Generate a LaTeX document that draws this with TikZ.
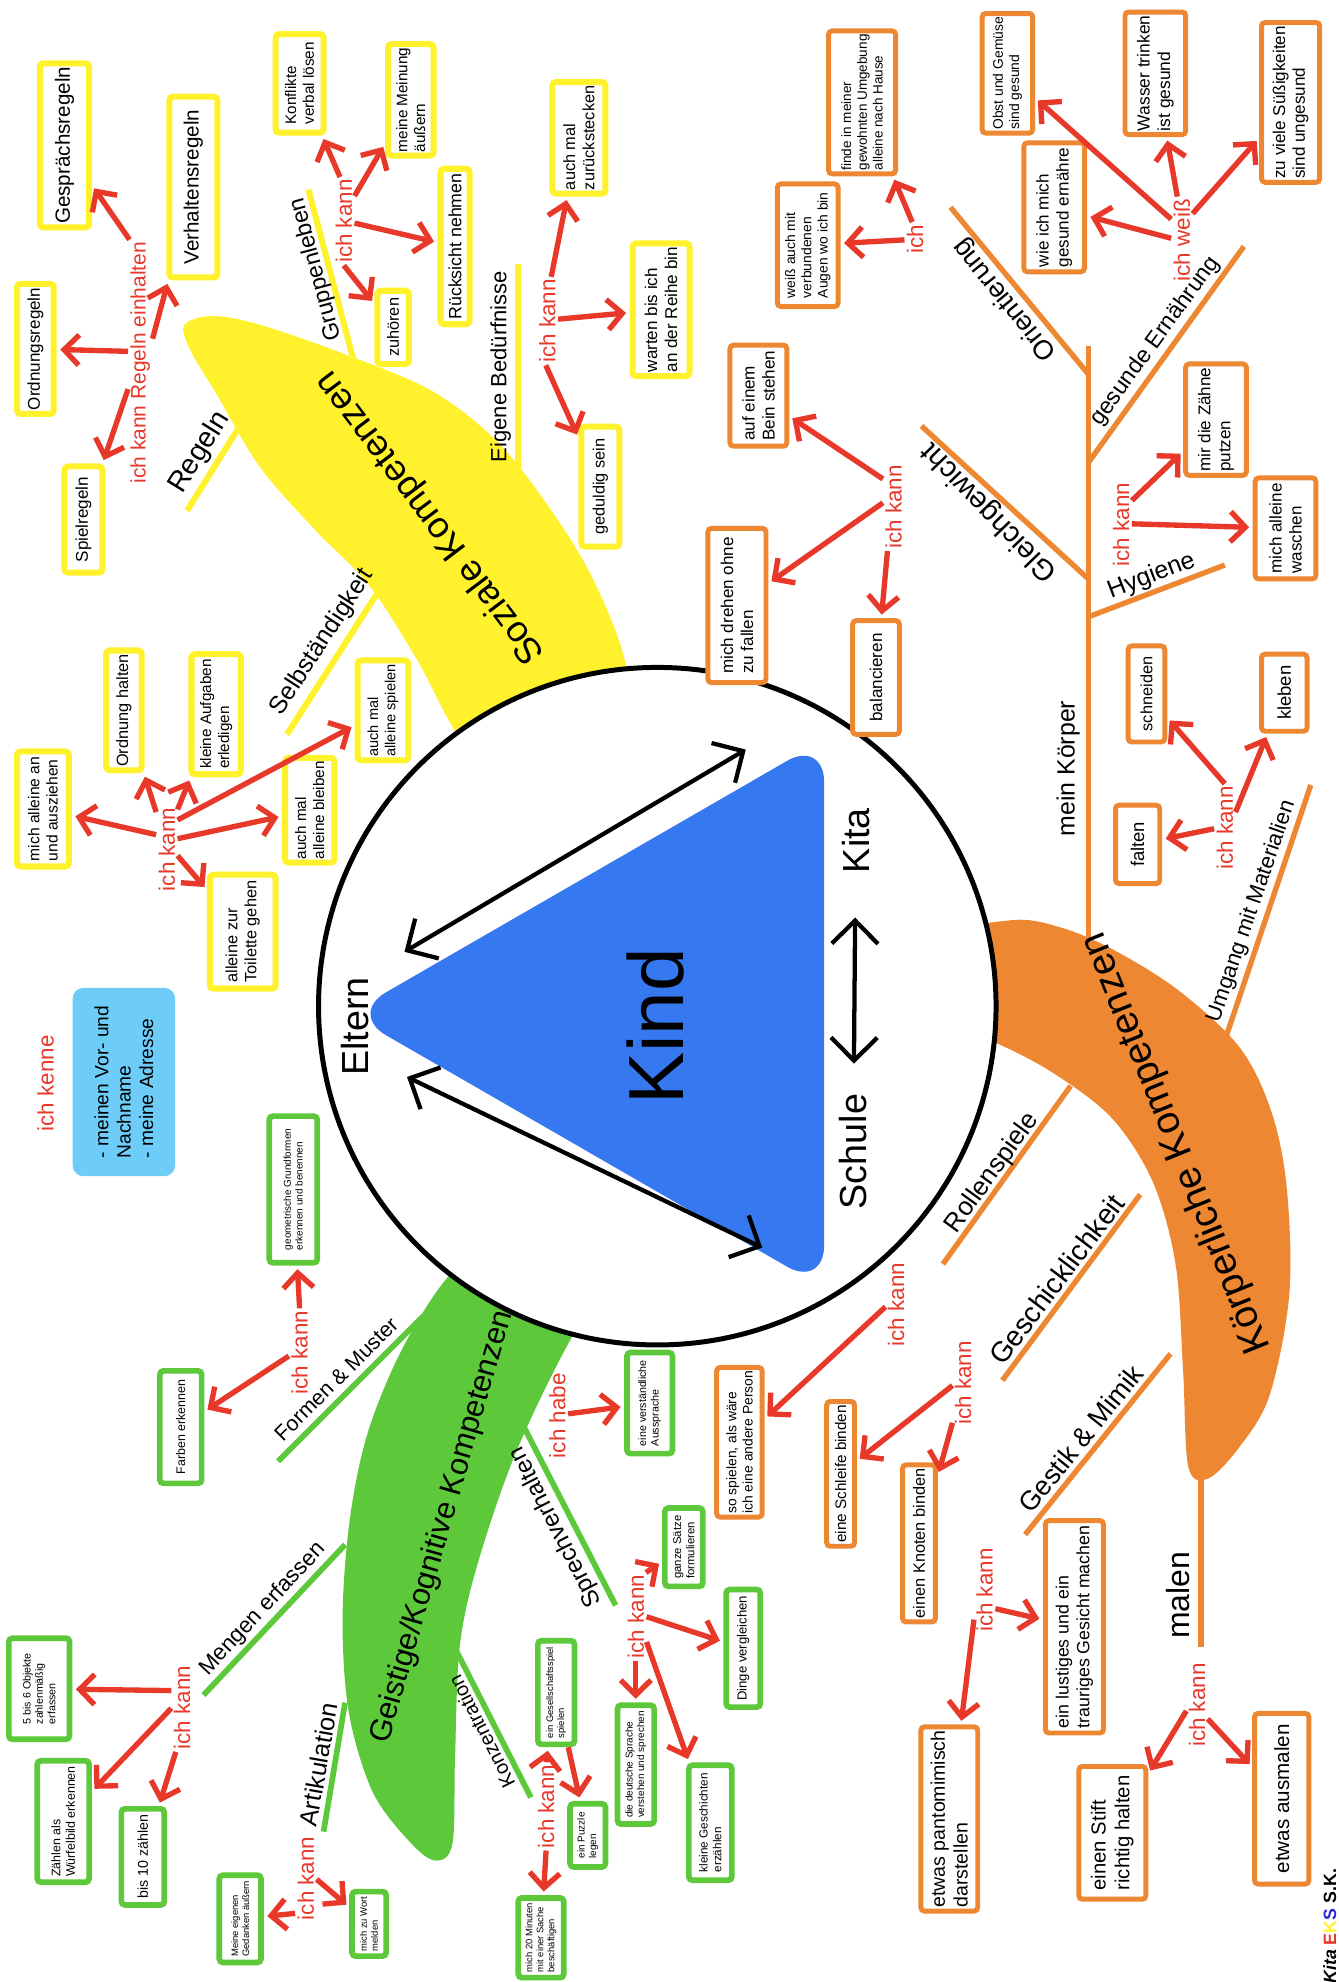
\documentclass[tikz,border=0pt]{standalone}
\usepackage{fontspec}
\setmainfont{Liberation Sans}
\usetikzlibrary{arrows.meta}
\definecolor{kyellow}{RGB}{255,242,45}
\definecolor{kgreen}{RGB}{92,200,58}
\definecolor{korange}{RGB}{238,135,50}
\definecolor{kred}{RGB}{232,56,42}
\definecolor{kblue}{RGB}{53,120,240}
\definecolor{klight}{RGB}{110,205,248}
\definecolor{klogoblue}{RGB}{40,40,220}
\newcommand{\fs}[1]{\fontsize{#1}{#1}\selectfont\baselineskip=1.17\baselineskip}

\begin{document}
\begin{tikzpicture}[x=0.125mm, y=-0.125mm,
    kbox/.style={fill=white, rotate=90, align=left, inner sep=1pt, rounded corners=1pt},
    ybox/.style={kbox, draw=kyellow, line width=1.7pt},
    obox/.style={kbox, draw=korange, line width=1.4pt},
    gbox/.style={kbox, draw=kgreen, line width=1.6pt},
    sz/.style 2 args={minimum width=#1*0.125mm, minimum height=#2*0.125mm},
    kann/.style={text=kred, rotate=90, inner sep=0.5pt, font=\fs{6.3}},
    lbl/.style={inner sep=0.5pt},
    rarr/.style={kred, line width=1.5pt, -{Straight Barb[length=4.2pt,width=8.5pt]}, shorten >=1pt},
    barr/.style={line width=1.2pt, {Straight Barb[length=6.5pt,width=13pt]}-{Straight Barb[length=6.5pt,width=13pt]}},
    yline/.style={kyellow, line width=1.7pt},
    oline/.style={korange, line width=1.5pt},
    gline/.style={kgreen, line width=1.6pt}]

\fill[white] (0,0) rectangle (1059,1568);
\useasboundingbox (0,0) rectangle (1059,1568);

% the three branches
\fill[kyellow] plot[smooth cycle, tension=0.55] coordinates {(146,257) (168,250) (206,257) (275,281) (343,310) (395,351) (439,408) (470,460) (495,525) (505,610) (440,650) (370,592) (330,522) (292,463) (250,420) (206,370) (172,313) (150,276)};
\fill[kgreen] plot[smooth cycle, tension=0.55] coordinates {(430,960) (364,1000) (322,1060) (292,1130) (277,1200) (271,1280) (276,1355) (295,1418) (325,1458) (345,1472) (358,1458) (360,1390) (364,1300) (380,1230) (412,1140) (463,1040) (510,990)};
\fill[korange] plot[smooth cycle, tension=0.55] coordinates {(740,745) (800,728) (840,734) (882,752) (933,784) (981,829) (1006,880) (1018,940) (1020,1024) (1004,1105) (978,1148) (955,1170) (940,1160) (936,1085) (930,1000) (912,935) (880,885) (835,850) (790,826) (745,810)};

\draw[yline] (148,404) -- (199,322);
\draw[yline] (244,150) -- (280,286);
\draw[yline] (410,209) -- (410,392);
\draw[yline] (227,581) -- (307,456);

\draw[oline] (861,274) -- (861,745);
\draw[oline] (752,164) -- (861,296);
\draw[oline] (861,366) -- (984,195);
\draw[oline] (729,337) -- (861,458);
\draw[oline] (861,488) -- (969,447);
\draw[oline] (967,829) -- (1037,621);
\draw[oline] (746,1000) -- (847,859);
\draw[oline] (793,1092) -- (902,945);
\draw[oline] (811,1214) -- (926,1071);
\draw[oline] (950,1160) -- (950,1303);

\draw[gline] (220,1156) -- (335,1041);
\draw[gline] (161,1341) -- (273,1222);
\draw[gline] (256,1449) -- (273,1347);
\draw[gline] (360,1304) -- (420,1422);
\draw[gline] (414,1128) -- (487,1270);

\node[rotate=127, font=\fs{10.3}] (sozial) at (341,409) {Soziale Kompetenzen};
\node[rotate=74, font=\fs{8.7}] (geistig) at (350,1208) {Geistige/Kognitive Kompetenzen};
\node[rotate=112, font=\fs{11}] (koerper) at (931,904) {Körperliche Kompetenzen};

% centre
\node[draw, circle, line width=1.4pt, fill=white, minimum size=536*0.125mm, inner sep=0] (ring) at (520,796) {};
\fill[kblue, rounded corners=12pt] (276,802) -- (652,585) -- (652,1019) -- cycle;
\node[rotate=90, font=\fs{22}] (kind) at (519,812) {Kind};
\node[rotate=90, font=\fs{10.6}] (eltern) at (281,812) {Eltern};
\node[rotate=90, font=\fs{10.6}] (kita) at (677,665) {Kita};
\node[rotate=90, font=\fs{10.6}] (schule) at (675,911) {Schule};
\coordinate (eA) at (320,753);
\coordinate (kA) at (590,593);
\coordinate (eB) at (322,852);
\coordinate (sB) at (603,987);
\draw[barr] (eA) -- (kA);
\draw[barr] (eB) -- (sB);
\draw[barr, shorten <=9pt, shorten >=5pt] (kita) -- (schule);

% branch labels
\node[lbl, rotate=58, font=\fs{8}] (regeln) at (158,358) {Regeln};
\node[lbl, rotate=105, font=\fs{6.5}] (gruppen) at (250,213) {Gruppenleben};
\node[lbl, rotate=90, font=\fs{6.2}] (beduerf) at (396,290) {Eigene Bedürfnisse};
\node[lbl, rotate=57, font=\fs{7}] (selbst) at (255,508) {Selbständigkeit};
\node[lbl, rotate=129, font=\fs{7.6}] (orient) at (795,237) {Orientierung};
\node[lbl, rotate=54, font=\fs{6.5}] (ernaehr) at (914,270) {gesunde Ernährung};
\node[lbl, rotate=134, font=\fs{8.2}] (gleich) at (783,405) {Gleichgewicht};
\node[lbl, rotate=21, font=\fs{7}] (hygiene) at (911,456) {Hygiene};
\node[lbl, rotate=90, font=\fs{7}] (meinK) at (845,608) {mein Körper};
\node[lbl, rotate=71, font=\fs{6.2}] (umgang) at (990,721) {Umgang mit Materialien};
\node[lbl, rotate=54, font=\fs{7.3}] (rollen) at (785,928) {Rollenspiele};
\node[lbl, rotate=53, font=\fs{8}] (geschick) at (836,1012) {Geschicklichkeit};
\node[lbl, rotate=51, font=\fs{7.6}] (gestik) at (855,1138) {Gestik \& Mimik};
\node[lbl, rotate=90, font=\fs{9}] (malen) at (932,1262) {malen};
\node[lbl, rotate=45, font=\fs{6}] (formen) at (266,1091) {Formen \& Muster};
\node[lbl, rotate=47, font=\fs{6.3}] (mengen) at (208,1273) {Mengen erfassen};
\node[lbl, rotate=80, font=\fs{7.1}] (artik) at (252,1396) {Artikulation};
\node[lbl, rotate=117, font=\fs{5.6}] (konz) at (381,1370) {Konzentration};
\node[lbl, rotate=117, font=\fs{6.8}] (sprech) at (440,1208) {Sprechverhalten};

% red labels
\node[kann, font=\fs{5.9}] (kannR) at (111,287) {ich kann Regeln einhalten};
\node[kann] (kannG) at (272,175) {ich kann};
\node[kann] (kannE) at (433,254) {ich kann};
\node[kann] (kannS) at (132,672) {ich kann};
\node[kann] (kannO) at (724,189) {ich};
\node[kann] (kannW) at (935,190) {ich weiß};
\node[kann] (kannH) at (887,415) {ich kann};
\node[kann] (kannB) at (707,401) {ich kann};
\node[kann] (kannU) at (969,655) {ich kann};
\node[kann] (kannRo) at (709,1032) {ich kann};
\node[kann] (kannGe) at (762,1094) {ich kann};
\node[kann] (kannM) at (779,1258) {ich kann};
\node[kann] (kannMa) at (947,1349) {ich kann};
\node[kann] (kannF) at (237,1070) {ich kann};
\node[kann] (kannHa) at (441,1120) {ich habe};
\node[kann] (kannSp) at (503,1279) {ich kann};
\node[kann] (kannK) at (432,1429) {ich kann};
\node[kann] (kannMe) at (144,1351) {ich kann};
\node[kann] (kannA) at (242,1486) {ich kann};
\node[kann] (kenne) at (36,857) {ich kenne};

\node[fill=klight, rounded corners=3pt, rotate=90, align=left, sz={149}{81}, font=\fs{5.4}] (info) at (98,856) {- meinen Vor- und\\Nachname\\- meine Adresse};

% yellow boxes
\node[ybox, sz={126}{39}, font=\fs{5.8}] (gespraech) at (51,115) {Gesprächsregeln};
\node[ybox, sz={143}{38}, font=\fs{5.8}] (verhalten) at (153,148) {Verhaltensregeln};
\node[ybox, sz={103}{29}, font=\fs{4.8}] (ordnung) at (28,276) {Ordnungsregeln};
\node[ybox, sz={84}{30}, font=\fs{4.8}] (spiel) at (66,411) {Spielregeln};
\node[ybox, sz={78}{38}, font=\fs{4.3}] (konflikte) at (237,66) {Konflikte\\verbal lösen};
\node[ybox, sz={85}{36}, font=\fs{4.3}] (meinung) at (325,79) {meine Meinung\\äußern};
\node[ybox, sz={123}{23}, font=\fs{5}] (ruecksicht) at (360,195) {Rücksicht nehmen};
\node[ybox, sz={58}{25}, font=\fs{4.6}] (zuhoeren) at (311,259) {zuhören};
\node[ybox, sz={88}{42}, font=\fs{4.6}] (zurueck) at (458,109) {auch mal\\zurückstecken};
\node[ybox, sz={105}{45}, font=\fs{4.8}] (warten) at (523,245) {warten bis ich\\an der Reihe bin};
\node[ybox, sz={95}{30}, font=\fs{4.6}] (geduldig) at (475,385) {geduldig sein};
\node[ybox, sz={91}{41}, font=\fs{4.4}] (anzieh) at (34,640) {mich alleine an\\und ausziehen};
\node[ybox, sz={88}{28}, font=\fs{4.6}] (ordnungH) at (98,562) {Ordnung halten};
\node[ybox, sz={95}{39}, font=\fs{4.3}] (kleineA) at (171,565) {kleine Aufgaben\\erledigen};
\node[ybox, sz={81}{39}, font=\fs{4.3}] (bleiben) at (245,641) {auch mal\\alleine bleiben};
\node[ybox, sz={79}{40}, font=\fs{4.1}] (spielen) at (303,562) {auch mal\\alleine spielen};
\node[ybox, sz={90}{52}, font=\fs{4.6}] (toilette) at (192,737) {alleine zur\\Toilette gehen};

% orange boxes
\node[obox, sz={97}{48}, font=\fs{3.9}] (weiss) at (639,194) {weiß auch mit\\verbundenen\\Augen wo ich bin};
\node[obox, sz={113}{53}, font=\fs{3.8}] (finde) at (682,81) {finde in meiner\\gewohnten Umgebung\\alleine nach Hause};
\node[obox, sz={94}{40}, font=\fs{3.9}] (obst) at (797,58) {Obst und Gemüse\\sind gesund};
\node[obox, sz={96}{48}, font=\fs{4.9}] (wasser) at (914,58) {Wasser trinken\\ist gesund};
\node[obox, sz={126}{46}, font=\fs{4.8}] (zuviele) at (1021,81) {zu viele Süßigkeiten\\sind ungesund};
\node[obox, sz={102}{48}, font=\fs{4.8}] (wie) at (834,164) {wie ich mich\\gesund ernähre};
\node[obox, sz={86}{48}, font=\fs{4.8}] (zaehne) at (962,332) {mir die Zähne\\putzen};
\node[obox, sz={80}{48}, font=\fs{4.8}] (waschen) at (1017,418) {mich alleine\\waschen};
\node[obox, sz={80}{45}, font=\fs{4.8}] (bein) at (600,313) {auf einem\\Bein stehen};
\node[obox, sz={122}{46}, font=\fs{4.8}] (drehen) at (583,479) {mich drehen ohne\\zu fallen};
\node[obox, sz={90}{37}, font=\fs{4.8}] (balanc) at (693,536) {balancieren};
\node[obox, sz={76}{29}, font=\fs{4.6}] (schneiden) at (907,549) {schneiden};
\node[obox, sz={61}{36}, font=\fs{5.2}] (kleben) at (1016,548) {kleben};
\node[obox, sz={62}{35}, font=\fs{5.2}] (falten) at (900,668) {falten};
\node[obox, sz={113}{36}, font=\fs{3.9}] (person) at (585,1141) {so spielen, als wäre\\ich eine andere Person};
\node[obox, sz={109}{22}, font=\fs{4.3}] (schleife) at (665,1166) {eine Schleife binden};
\node[obox, sz={122}{26}, font=\fs{4.6}] (knoten) at (727,1221) {einen Knoten binden};
\node[obox, sz={168}{46}, font=\fs{5}] (lustig) at (850,1287) {ein lustiges und ein\\trauriges Gesicht machen};
\node[obox, sz={144}{45}, font=\fs{5.5}] (panto) at (751,1439) {etwas pantomimisch\\darstellen};
\node[obox, sz={105}{53}, font=\fs{5.7}] (stift) at (880,1450) {einen Stift\\richtig halten};
\node[obox, sz={135}{43}, font=\fs{5.8}] (ausmalen) at (1014,1423) {etwas ausmalen};

% green boxes
\node[gbox, sz={116}{38}, font=\fs{2.8}] (geom) at (232,941) {geometrische Grundformen\\erkennen und benennen};
\node[gbox, sz={89}{33}, font=\fs{3.5}] (farben) at (143,1129) {Farben erkennen};
\node[gbox, sz={80}{36}, font=\fs{3}] (aussprache) at (514,1110) {eine verständliche\\Aussprache};
\node[gbox, sz={62}{30}, font=\fs{3.2}] (ganze) at (541,1224) {ganze Sätze\\formulieren};
\node[gbox, sz={93}{27}, font=\fs{3.7}] (dinge) at (588,1304) {Dinge vergleichen};
\node[gbox, sz={91}{34}, font=\fs{3.3}] (geschichten) at (562,1442) {kleine Geschichten\\erzählen};
\node[gbox, sz={94}{29}, font=\fs{2.8}] (deutsch) at (503,1396) {die deutsche Sprache\\verstehen und sprechen};
\node[gbox, sz={82}{29}, font=\fs{2.65}] (gesell) at (440,1339) {ein Gesellschaftsspiel\\spielen};
\node[gbox, sz={50}{28}, font=\fs{2.8}] (puzzle) at (465,1452) {ein Puzzle\\legen};
\node[gbox, sz={63}{36}, font=\fs{2.65}] (minuten) at (428,1533) {mich 20 Minuten\\mit einer Sache\\beschäftigen};
\node[gbox, sz={69}{33}, font=\fs{2.65}] (meine) at (190,1518) {Meine eigenen\\Gedanken äußern};
\node[gbox, sz={51}{27}, font=\fs{2.65}] (wort) at (292,1522) {mich zu Wort\\melden};
\node[gbox, sz={80}{48}, font=\fs{3}] (fuenf) at (31,1336) {5 bis 6 Objekte\\zahlenmäßig\\erfassen};
\node[gbox, sz={96}{41}, font=\fs{3.5}] (zaehlen) at (50,1441) {Zählen als\\Würfelbild erkennen};
\node[gbox, sz={76}{34}, font=\fs{4}] (bis10) at (113,1469) {bis 10 zählen};

% arrows
\draw[rarr] (kannR.5) -- (gespraech);
\draw[rarr] (kannR.-27) -- (verhalten);
\draw[rarr] (kannR.47) -- (ordnung);
\draw[rarr] (kannR.155) -- (spiel);
\draw[rarr] (kannG.5) -- (konflikte);
\draw[rarr] (kannG.-23) -- (meinung);
\draw[rarr] (kannG.-100) -- (ruecksicht);
\draw[rarr] (kannG.180) -- (zuhoeren);
\draw[rarr] (kannE.-5) -- (zurueck);
\draw[rarr] (kannE.-80) -- (warten);
\draw[rarr] (kannE.178) -- (geduldig);
\draw[rarr] (kannS.36) -- (anzieh);
\draw[rarr] (kannS.16) -- (ordnungH);
\draw[rarr] (kannS.-15) -- (kleineA);
\draw[rarr] (kannS.-20) -- (spielen);
\draw[rarr] (kannS.-45) -- (bleiben);
\draw[rarr] (kannS.-120) -- (toilette);
\draw[rarr] (kannO.95) -- (weiss);
\draw[rarr] (kannO.10) -- (finde);
\draw[rarr] (kannW.27) -- (obst);
\draw[rarr] (kannW.6) -- (wasser);
\draw[rarr] (kannW.-22) -- (zuviele);
\draw[rarr] (kannW.80) -- (wie);
\draw[rarr] (kannH.-24) -- (zaehne);
\draw[rarr] (kannH.-86) -- (waschen);
\draw[rarr] (kannB.21) -- (bein);
\draw[rarr] (kannB.69) -- (drehen);
\draw[rarr] (kannB.172) -- (balanc);
\draw[rarr] (kannU.0) -- (schneiden);
\draw[rarr] (kannU.-34) -- (kleben);
\draw[rarr] (kannU.94) -- (falten);
\draw[rarr] (kannRo.102) -- (person);
\draw[rarr] (kannGe.104) -- (schleife);
\draw[rarr] (kannGe.165) -- (knoten);
\draw[rarr] (kannM.-150) -- (lustig);
\draw[rarr] (kannM.160) -- (panto);
\draw[rarr] (kannMa.118) -- (stift);
\draw[rarr] (kannMa.-142) -- (ausmalen);
\draw[rarr] (kannF.0) -- (geom);
\draw[rarr] (kannF.108) -- (farben);
\draw[rarr] (kannHa.-80) -- (aussprache);
\draw[rarr] (kannSp.-13) -- (ganze);
\draw[rarr] (kannSp.-90) -- (dinge);
\draw[rarr] (kannSp.-157) -- (geschichten);
\draw[rarr] (kannSp.180) -- (deutsch);
\draw[rarr] (kannK.0) -- (gesell);
\draw[rarr] (kannK.180) -- (minuten);
\draw[rarr] (gesell) -- (puzzle);
\draw[rarr] (kannMe.32) -- (fuenf);
\draw[rarr] (kannMe.93) -- (zaehlen);
\draw[rarr] (kannMe.172) -- (bis10);
\draw[rarr] (kannA.163) -- (meine);
\draw[rarr] (kannA.-95) -- (wort);

\node[rotate=90, anchor=east, inner sep=0, font=\fs{5}\bfseries] (logo) at (1052,1478) {\textit{Kita} \textcolor{kred}{E}\textcolor{kyellow}{K}\textcolor{klogoblue}{S} S.K.};
\end{tikzpicture}
\end{document}
